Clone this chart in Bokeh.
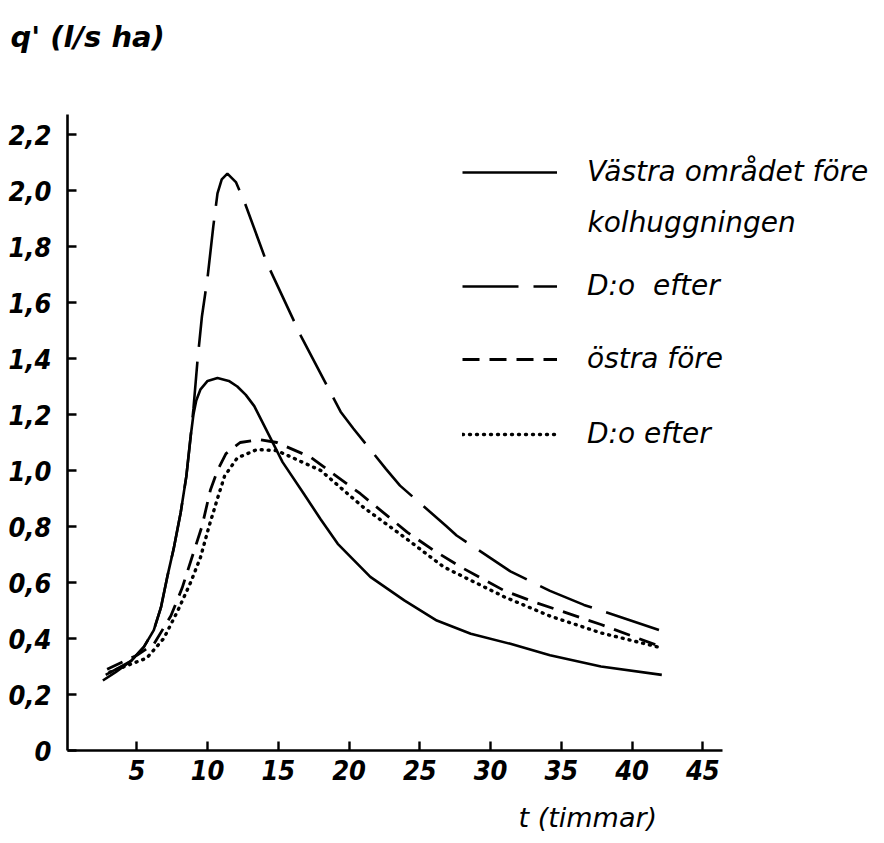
from bokeh.plotting import figure
from bokeh.models import (Range1d, FixedTicker, Label, Legend, LegendItem, Title)
from bokeh.embed import file_html
from bokeh.resources import INLINE

# ---- data ----
t_vastra_fore = [2.6, 3.5, 4.6, 5.5, 6.2, 6.7, 7.15, 7.6, 8.1, 8.5, 8.8, 9.0,
                 9.2, 9.5, 10.0, 10.7, 11.5, 12.1, 12.7, 13.3, 13.9, 14.5,
                 15.3, 16.8, 18.0, 19.2, 21.5, 23.9, 26.2, 28.6, 31.4, 34.2,
                 37.8, 42.1]
q_vastra_fore = [0.25, 0.28, 0.32, 0.37, 0.43, 0.51, 0.62, 0.72, 0.85, 0.98,
                 1.12, 1.20, 1.25, 1.29, 1.32, 1.33, 1.32, 1.30, 1.27, 1.23,
                 1.17, 1.11, 1.03, 0.917, 0.825, 0.738, 0.62, 0.536, 0.464,
                 0.417, 0.381, 0.34, 0.30, 0.27]

t_vastra_efter = [2.8, 4.6, 5.5, 6.2, 6.7, 7.15, 7.6, 8.1, 8.5, 8.8, 9.0, 9.3,
                  9.6, 10.0, 10.4, 10.7, 11.0, 11.4, 12.0, 12.6, 14.2, 16.6,
                  19.4, 20.3, 22.6, 23.6, 26.9, 27.6, 31.4, 34.2, 36.6, 41.9]
q_vastra_efter = [0.27, 0.32, 0.37, 0.43, 0.51, 0.62, 0.72, 0.85, 0.98, 1.12,
                  1.22, 1.40, 1.55, 1.69, 1.87, 1.99, 2.04, 2.06, 2.03, 1.96,
                  1.74, 1.48, 1.21, 1.15, 1.006, 0.946, 0.80, 0.768, 0.64,
                  0.57, 0.52, 0.43]

t_ostra_fore = [2.9, 5.0, 6.2, 7.4, 8.2, 8.9, 9.6, 10.2, 10.7, 11.3, 12.3,
                13.7, 14.9, 17.3, 20.8, 24.1, 26.0, 27.9, 31.0, 33.1, 37.8,
                41.8]
q_ostra_fore = [0.29, 0.34, 0.38, 0.48, 0.58, 0.69, 0.80, 0.93, 1.00, 1.06,
                1.10, 1.11, 1.10, 1.047, 0.917, 0.78, 0.714, 0.655, 0.57, 0.53,
                0.45, 0.375]

t_ostra_efter = [3.1, 5.7, 6.9, 7.9, 8.8, 9.5, 10.1, 10.7, 11.2, 12.1, 13.5,
                 14.9, 18.0, 21.0, 23.9, 26.7, 31.0, 34.2, 37.8, 41.8]
q_ostra_efter = [0.28, 0.33, 0.40, 0.50, 0.60, 0.69, 0.80, 0.90, 0.98, 1.045,
                 1.075, 1.071, 1.00, 0.869, 0.762, 0.655, 0.548, 0.48, 0.42,
                 0.37]

x_ticks = [5, 10, 15, 20, 25, 30, 35, 40, 45]
y_ticks = [0, 0.2, 0.4, 0.6, 0.8, 1.0, 1.2, 1.4, 1.6, 1.8, 2.0, 2.2]
y_tick_labels = ["0", "0,2", "0,4", "0,6", "0,8", "1,0", "1,2", "1,4", "1,6",
                 "1,8", "2,0", "2,2"]

legend_labels = ["Västra området före", "D:o  efter", "östra före", "D:o efter"]
legend_extra = "kolhuggningen"
y_title = "q' (l/s ha)"
x_title = "t (timmar)"

TICK_FONT = "DejaVu Sans Condensed"
TEXT_FONT = "DejaVu Sans"

W, H = 876, 835
LEFT, TOP = 67, 68
FRAME_BOTTOM = 750
PX_PER_T = 14.15
PX_PER_Q = 280.0

p = figure(width=W, height=H, output_backend="svg", toolbar_location=None,
           min_border_left=LEFT, min_border_right=0, min_border_top=TOP,
           min_border_bottom=H - FRAME_BOTTOM)
p.x_range = Range1d(0.1, 0.1 + (W - LEFT) / PX_PER_T)
p.y_range = Range1d(0, (FRAME_BOTTOM - TOP) / PX_PER_Q)
p.grid.visible = False
p.outline_line_color = None
p.background_fill_color = "white"
p.border_fill_color = "white"

for ax in (p.xaxis[0], p.yaxis[0]):
    ax.axis_line_width = 2.6
    ax.axis_line_color = "black"
    ax.major_tick_line_width = 2.4
    ax.major_tick_line_color = "black"
    ax.major_tick_in = 9
    ax.major_tick_out = 0
    ax.minor_tick_line_color = None
    ax.major_label_text_font = TICK_FONT
    ax.major_label_text_font_style = "bold italic"
    ax.major_label_text_font_size = "27px"
    ax.major_label_text_color = "black"

p.xaxis[0].ticker = FixedTicker(ticks=x_ticks)
p.xaxis[0].bounds = (0.1, 46.4)
p.xaxis[0].major_label_standoff = 9
# invisible spacer so the axis title sits low, as in the original
p.xaxis[0].axis_label = " "
p.xaxis[0].axis_label_text_font_size = "1px"
p.xaxis[0].axis_label_standoff = 11
p.yaxis[0].ticker = FixedTicker(ticks=y_ticks)
p.yaxis[0].major_label_overrides = {k: v for k, v in zip(y_ticks, y_tick_labels)}
p.yaxis[0].bounds = (0, 2.27)
p.yaxis[0].major_label_standoff = 16

r1 = p.line(t_vastra_fore, q_vastra_fore, line_color="black", line_width=2.6)
r2 = p.line(t_vastra_efter, q_vastra_efter, line_color="black", line_width=2.6,
            line_dash="56 15")
r3 = p.line(t_ostra_fore, q_ostra_fore, line_color="black", line_width=2.8,
            line_dash="17 10")
r4 = p.line(t_ostra_efter, q_ostra_efter, line_color="black", line_width=3.4,
            line_dash="1 6", line_cap="round")

# legend rows, each as its own Legend so the rows can be spaced like the original
rows = [(r1, legend_labels[0], 562), (r2, legend_labels[1], 448),
        (r3, legend_labels[2], 375), (r4, legend_labels[3], 300)]
for r, lab, ly in rows:
    lg = Legend(items=[LegendItem(label=lab, renderers=[r])], location=(395, ly),
                glyph_width=95, glyph_height=30, label_height=30,
                label_standoff=30, padding=0, margin=0, spacing=0,
                border_line_alpha=0, background_fill_alpha=0,
                label_text_font=TEXT_FONT, label_text_font_style="italic",
                label_text_font_size="28px", label_text_color="black")
    p.add_layout(lg)

p.add_layout(Label(x=520, y=528, x_units="screen", y_units="screen",
                   text=legend_extra, text_font=TEXT_FONT, text_font_style="italic",
                   text_font_size="28px", text_baseline="middle", text_color="black"))

p.title.text = y_title
p.title.align = "left"
p.title.offset = -57
p.title.standoff = 30
p.title.text_font = TEXT_FONT
p.title.text_font_style = "bold italic"
p.title.text_font_size = "29px"
p.title.text_color = "black"

p.add_layout(Title(text=x_title, align="left", offset=451, standoff=4,
                   text_font=TEXT_FONT, text_font_style="italic",
                   text_font_size="27px", text_color="black"), "below")

open("out.html", "w").write(file_html(p, INLINE))
